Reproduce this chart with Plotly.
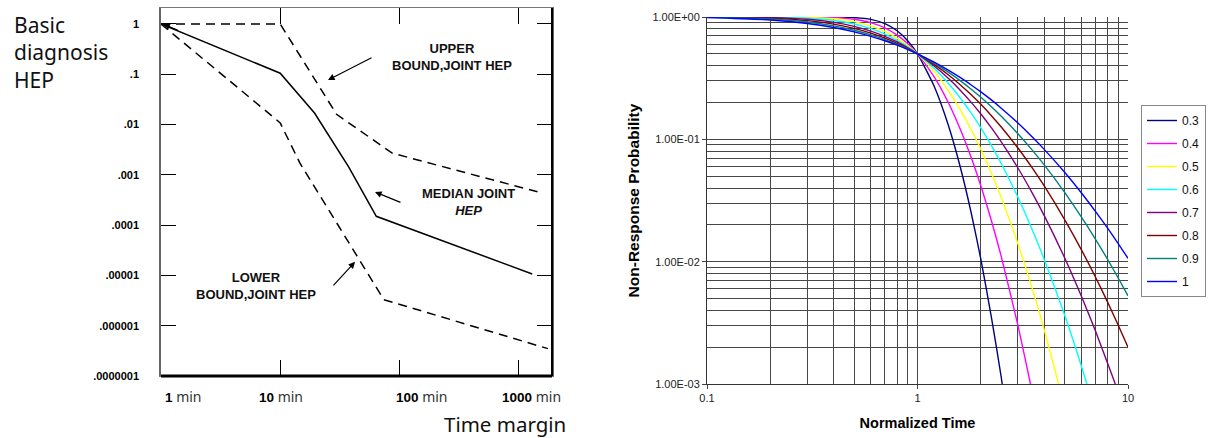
import math
import plotly.graph_objects as go

# ---------------- Left chart data (nominal diagnosis model) ----------------
MEDIAN_T = [1, 10, 19.4, 37.5, 64, 1300]
MEDIAN_P = [1.0, 0.105, 0.017, 0.00144, 0.00015, 0.0000107]
UPPER_T = [1, 10, 29.7, 87, 1440]
UPPER_P = [1.0, 1.0, 0.016, 0.0027, 0.00046]
LOWER_T = [1, 10, 14.6, 74, 1760]
LOWER_P = [1.0, 0.0108, 0.00173, 0.0000033, 0.00000035]
LEFT_Y_TICKS = [1, 0.1, 0.01, 0.001, 0.0001, 0.00001, 0.000001, 0.0000001]
LEFT_Y_LABELS = ["1", ".1", ".01", ".001", ".0001", ".00001", ".000001", ".0000001"]
LEFT_X_TICKS = [1, 10, 100, 1000]
LEFT_X_NUMS = ["1", "10", "100", "1000"]

# ---------------- Right chart data (non-response curves) ----------------
NORM_T = [0.1, 0.2, 0.3, 0.4, 0.5, 0.6, 0.7, 0.8, 0.9, 1.0, 1.2, 1.4, 1.6, 1.8,
          2.0, 2.25, 2.5, 3.0, 3.5, 4.0, 5.0, 6.0, 7.0, 8.0, 9.0, 10.0]
SERIES_NAMES = ["0.3", "0.4", "0.5", "0.6", "0.7", "0.8", "0.9", "1"]
P_03 = [1.0, 1.0, 1.0, 0.9989, 0.9896, 0.9557, 0.8828, 0.7715, 0.6372, 0.5, 0.2716, 0.1310, 0.0586, 0.0250,
        0.01044, 0.00343, 0.00113, 0.000125, None, None, None, None, None, None, None, None]
P_04 = [1.0, 1.0, 0.9987, 0.9890, 0.9584, 0.8992, 0.8138, 0.7115, 0.6039, 0.5, 0.3242, 0.2002, 0.1200, 0.0709,
        0.0416, 0.0213, 0.0110, 0.00301, 0.00087, 0.00026, None, None, None, None, None, None]
P_05 = [1.0, 0.9994, 0.9920, 0.9666, 0.9171, 0.8466, 0.7622, 0.6722, 0.5835, 0.5, 0.3576, 0.2505, 0.1736, 0.1198,
        0.0829, 0.0524, 0.0334, 0.0140, 0.00611, 0.00278, 0.00064, 0.00017, None, None, None, None]
P_06 = [1.0, 0.9963, 0.9776, 0.9366, 0.8760, 0.8027, 0.7239, 0.6450, 0.5697, 0.5, 0.3806, 0.2875, 0.2168, 0.1636,
        0.1240, 0.0883, 0.0634, 0.0336, 0.0184, 0.01043, 0.00366, 0.00141, 0.00059, 0.00026, None, None]
P_07 = [0.9995, 0.9892, 0.9573, 0.9047, 0.8389, 0.7673, 0.6948, 0.6251, 0.5599, 0.5, 0.3973, 0.3154, 0.2510, 0.2005,
        0.1611, 0.1235, 0.0953, 0.0583, 0.0367, 0.0238, 0.01075, 0.00523, 0.00272, 0.00148, 0.00085, 0.0005]
P_08 = [0.9980, 0.9779, 0.9338, 0.8739, 0.8068, 0.7384, 0.6722, 0.6098, 0.5524, 0.5, 0.4099, 0.3370, 0.2784, 0.2312,
        0.1932, 0.1554, 0.1261, 0.0849, 0.0587, 0.0416, 0.0221, 0.01255, 0.0075, 0.00467, 0.00301, 0.0020]
P_09 = [0.9947, 0.9631, 0.9095, 0.8457, 0.7794, 0.7148, 0.6541, 0.5979, 0.5466, 0.5, 0.4197, 0.3542, 0.3008, 0.2569,
        0.2206, 0.1838, 0.1543, 0.1111, 0.0820, 0.0618, 0.0369, 0.0232, 0.0153, 0.01044, 0.00732, 0.00526]
P_10 = [0.9893, 0.9462, 0.8857, 0.8203, 0.7559, 0.6952, 0.6393, 0.5883, 0.5420, 0.5, 0.4277, 0.3683, 0.3192, 0.2783,
        0.2441, 0.2090, 0.1797, 0.1360, 0.1051, 0.0828, 0.0538, 0.0366, 0.0258, 0.0188, 0.0140, 0.01065]
SERIES_VALUES = [P_03, P_04, P_05, P_06, P_07, P_08, P_09, P_10]
SERIES_COLORS = ["#000080", "#FF00FF", "#FFFF00", "#00FFFF", "#800080", "#800000", "#008080", "#0000FF"]
RIGHT_X_MAJOR = [0.1, 1, 10]
RIGHT_X_MAJOR_LABELS = ["0.1", "1", "10"]
RIGHT_X_MINOR = [0.2, 0.3, 0.4, 0.5, 0.6, 0.7, 0.8, 0.9, 2, 3, 4, 5, 6, 7, 8, 9]
RIGHT_Y_MAJOR = [0.001, 0.01, 0.1, 1]
RIGHT_Y_MAJOR_LABELS = ["1.00E-03", "1.00E-02", "1.00E-01", "1.00E+00"]
RIGHT_Y_MINOR = [0.002, 0.003, 0.004, 0.005, 0.006, 0.007, 0.008, 0.009,
                 0.02, 0.03, 0.04, 0.05, 0.06, 0.07, 0.08, 0.09,
                 0.2, 0.3, 0.4, 0.5, 0.6, 0.7, 0.8, 0.9]

W, H = 1210, 438
ARIAL = "Liberation Sans, Arial, sans-serif"
KFONT = "Noto Sans, Noto Sans CJK KR, sans-serif"
GRID = "#474747"

fig = go.Figure()

dash = "9px,6px"
fig.add_trace(go.Scatter(x=UPPER_T, y=UPPER_P, mode="lines", xaxis="x", yaxis="y",
                         line=dict(color="black", width=1.5, dash=dash), showlegend=False, hoverinfo="skip"))
fig.add_trace(go.Scatter(x=MEDIAN_T, y=MEDIAN_P, mode="lines", xaxis="x", yaxis="y",
                         line=dict(color="black", width=1.5), showlegend=False, hoverinfo="skip"))
fig.add_trace(go.Scatter(x=LOWER_T, y=LOWER_P, mode="lines", xaxis="x", yaxis="y",
                         line=dict(color="black", width=1.5, dash=dash), showlegend=False, hoverinfo="skip"))

for i, (name, vals, col) in enumerate(zip(SERIES_NAMES, SERIES_VALUES, SERIES_COLORS)):
    fig.add_trace(go.Scatter(x=NORM_T, y=vals, mode="lines", name=name, xaxis="x2", yaxis="y2",
                             line=dict(color=col, width=1.4, shape="spline", smoothing=0.6),
                             legendgroup=name, hoverinfo="skip"))

# plot-area pixel geometry
LX0, LX1, LY0, LY1 = 161, 552, 8, 376
RX0, RX1, RY0, RY1 = 707, 1128, 17, 384

fig.update_layout(
    width=W, height=H, margin=dict(l=0, r=0, t=0, b=0, autoexpand=False),
    paper_bgcolor="white", plot_bgcolor="white",
    xaxis=dict(type="log", domain=[LX0 / W, LX1 / W], range=[0, 3.28], anchor="y",
               tickvals=LEFT_X_TICKS, showticklabels=False, ticks="inside", ticklen=16,
               tickcolor="black", tickwidth=1, showline=True, linecolor="#777", linewidth=1,
               mirror="ticks", showgrid=False, zeroline=False),
    yaxis=dict(type="log", domain=[1 - LY1 / H, 1 - LY0 / H], range=[-7, 0.318], anchor="x",
               tickvals=LEFT_Y_TICKS, ticktext=LEFT_Y_LABELS, ticks="inside", ticklen=15,
               tickcolor="black", tickwidth=1, showline=True, linecolor="#666", linewidth=1.5,
               mirror="ticks", showgrid=False, zeroline=False, ticklabelstandoff=18,
               tickfont=dict(family=ARIAL, size=11, color="black", weight=700)),
    xaxis2=dict(type="log", domain=[RX0 / W, RX1 / W], range=[-1, 1], anchor="y2",
                tickvals=RIGHT_X_MAJOR, ticktext=RIGHT_X_MAJOR_LABELS, ticks="outside", ticklen=4,
                tickcolor="#444", showgrid=True, gridcolor=GRID, gridwidth=1,
                minor=dict(tickvals=RIGHT_X_MINOR, showgrid=True, gridcolor=GRID, gridwidth=1, ticks=""),
                showline=True, linecolor="#333", linewidth=1, zeroline=False,
                tickfont=dict(family=ARIAL, size=11, color="#222"),
                title=dict(text="Normalized Time", standoff=14,
                           font=dict(family=ARIAL, size=14.5, color="black", weight=700))),
    yaxis2=dict(type="log", domain=[1 - RY1 / H, 1 - RY0 / H], range=[-3, 0], anchor="x2",
                tickvals=RIGHT_Y_MAJOR, ticktext=RIGHT_Y_MAJOR_LABELS, ticks="outside", ticklen=4,
                tickcolor="#444", showgrid=True, gridcolor=GRID, gridwidth=1,
                minor=dict(tickvals=RIGHT_Y_MINOR, showgrid=True, gridcolor=GRID, gridwidth=1, ticks=""),
                showline=True, linecolor="#333", linewidth=1, zeroline=False,
                tickfont=dict(family=ARIAL, size=11, color="#222"),
                title=dict(text="Non-Response Probability", standoff=8,
                           font=dict(family=ARIAL, size=15.5, color="black", weight=700))),
    legend=dict(x=1206 / W, y=1 - 105 / H, xanchor="right", yanchor="top",
                bordercolor="#888", borderwidth=1, bgcolor="white", tracegroupgap=4,
                font=dict(family=ARIAL, size=12, color="#111")),
)

# frame emphasis on the left chart (thick bottom and right edges)
fig.add_shape(type="line", xref="x domain", yref="y domain", x0=0, x1=1, y0=0, y1=0,
              line=dict(color="black", width=3))
fig.add_shape(type="line", xref="x domain", yref="y domain", x0=1, x1=1, y0=0, y1=1,
              line=dict(color="black", width=2))

ann = []
ann.append(dict(text="Basic<br>diagnosis<br>HEP", xref="paper", yref="paper", x=12 / W, y=1 - 9 / H,
                xanchor="left", yanchor="top", align="left", showarrow=False,
                font=dict(family=KFONT, size=21, color="#111")))
ann.append(dict(text="Time margin", xref="paper", yref="paper", x=505 / W, y=1 - 424 / H,
                xanchor="center", yanchor="middle", showarrow=False,
                font=dict(family=KFONT, size=20.5, color="#111")))
shifts = [2, 1, 23, 12.5]
anchors = ["left", "center", "center", "center"]
for tv, num, sh, anc in zip(LEFT_X_TICKS, LEFT_X_NUMS, shifts, anchors):
    ann.append(dict(text="<b>" + num + "</b><span style='font-family:Noto Sans;font-size:14px;color:#333'> min</span>",
                    xref="x", yref="paper", x=math.log10(tv), y=1 - 396 / H,
                    xanchor=anc, yanchor="middle", xshift=sh, showarrow=False,
                    font=dict(family=ARIAL, size=13.5, color="black")))
lab_font = dict(family=ARIAL, size=13, color="#111", weight=700)
ann.append(dict(text="UPPER<br>BOUND,JOINT HEP", xref="paper", yref="paper", x=452 / W, y=1 - 57 / H,
                xanchor="center", yanchor="middle", showarrow=False, font=lab_font))
ann.append(dict(text="MEDIAN JOINT<br><i>HEP</i>", xref="paper", yref="paper", x=468 / W, y=1 - 202 / H,
                xanchor="center", yanchor="middle", showarrow=False, font=lab_font))
ann.append(dict(text="LOWER<br>BOUND,JOINT HEP", xref="paper", yref="paper", x=256 / W, y=1 - 286 / H,
                xanchor="center", yanchor="middle", showarrow=False, font=lab_font))
arrow_common = dict(xref="x", yref="y", text="", showarrow=True, arrowhead=2, arrowsize=1.1,
                    arrowwidth=1.2, arrowcolor="black", axref="pixel", ayref="pixel")
ann.append(dict(x=1.401, y=-1.113, ax=45, ay=-23, **arrow_common))
ann.append(dict(x=1.795, y=-3.34, ax=27, ay=11, **arrow_common))
ann.append(dict(x=1.628, y=-4.73, ax=-23, ay=25, **arrow_common))
ann.append(dict(x=0.02, y=0.0, ax=16, ay=7, **arrow_common))

fig.update_layout(annotations=ann)
fig.write_html("out.html", config={"displayModeBar": False},
               post_script="document.body.style.margin='0px';document.body.style.overflow='hidden';")
